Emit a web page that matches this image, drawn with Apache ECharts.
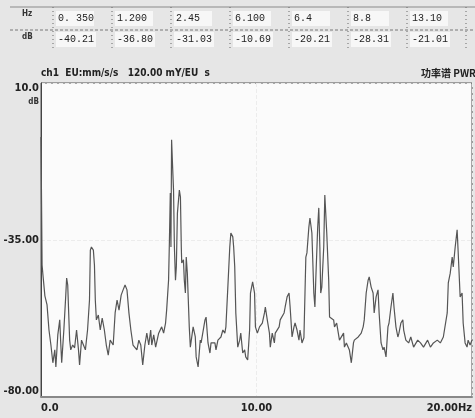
<!DOCTYPE html>
<html>
<head>
<meta charset="utf-8">
<script src="https://cdn.jsdelivr.net/npm/echarts@6/dist/echarts.min.js"></script>
<style>
	html, body { margin: 0; padding: 0; background: #e6e6e6; }
	#main { width: 475px; height: 418px; }
</style>
</head>
<body>
<div id="main"></div>
<script>
// 读数表
var tableHz = ['0. 350', '1.200', '2.45', '6.100', '6.4', '8.8', '13.10'];
var tableDb = ['-40.21', '-36.80', '-31.03', '-10.69', '-20.21', '-28.31', '-21.01'];

// 功率谱 (Hz, dB)
var freqHz = [0, 0.05, 0.09, 0.18, 0.28, 0.37, 0.46, 0.55, 0.64, 0.69, 0.78, 0.87, 0.92, 0.96, 1.06, 1.15, 1.19, 1.24, 1.28, 1.33,
	1.38, 1.47, 1.56, 1.65, 1.74, 1.79, 1.88, 1.97, 2.06, 2.16, 2.25, 2.29, 2.34, 2.43, 2.48, 2.52, 2.57, 2.66, 2.75, 2.84,
	2.94, 3.03, 3.12, 3.21, 3.35, 3.44, 3.53, 3.62, 3.72, 3.81, 3.90, 3.99, 4.08, 4.17, 4.27, 4.36, 4.45, 4.54, 4.63, 4.72,
	4.82, 4.91, 5.00, 5.09, 5.14, 5.23, 5.32, 5.46, 5.60, 5.69, 5.78, 5.83, 5.92, 5.96, 6.00, 6.03, 6.06, 6.10, 6.15, 6.19,
	6.24, 6.28, 6.33, 6.42, 6.47, 6.51, 6.53, 6.61, 6.65, 6.70, 6.74, 6.79, 6.83, 6.88, 6.93, 6.97, 7.06, 7.16, 7.20, 7.29,
	7.39, 7.43, 7.61, 7.66, 7.75, 7.84, 7.89, 8.07, 8.12, 8.21, 8.35, 8.44, 8.53, 8.58, 8.67, 8.76, 8.81, 8.90, 8.94, 8.99,
	9.04, 9.13, 9.22, 9.27, 9.36, 9.45, 9.50, 9.59, 9.68, 9.72, 9.82, 9.91, 9.95, 10.04, 10.14, 10.27, 10.37, 10.41, 10.50, 10.60,
	10.64, 10.73, 10.83, 10.87, 11.05, 11.10, 11.28, 11.33, 11.42, 11.51, 11.56, 11.65, 11.74, 11.79, 11.88, 11.97, 12.02, 12.11, 12.20, 12.25,
	12.29, 12.34, 12.43, 12.48, 12.57, 12.66, 12.71, 12.75, 12.84, 12.89, 12.94, 12.98, 13.03, 13.12, 13.17, 13.26, 13.35, 13.39, 13.58, 13.62,
	13.72, 13.85, 14.04, 14.08, 14.17, 14.31, 14.40, 14.50, 14.54, 14.72, 14.86, 14.95, 15.00, 15.09, 15.18, 15.23, 15.32, 15.41, 15.46, 15.55,
	15.64, 15.69, 15.78, 15.87, 15.92, 16.01, 16.10, 16.15, 16.24, 16.33, 16.38, 16.47, 16.56, 16.61, 16.70, 16.79, 16.83, 16.93, 17.06, 17.16,
	17.29, 17.48, 17.61, 17.75, 17.94, 18.07, 18.21, 18.39, 18.53, 18.67, 18.85, 18.90, 18.99, 19.08, 19.13, 19.22, 19.31, 19.36, 19.45, 19.54,
	19.59, 19.68, 19.77, 19.82, 19.91, 20.00];
var levelDb = [-5.5, -42.2, -45.0, -51.0, -53.6, -60.8, -65.1, -70.2, -66.5, -71.4, -62.2, -57.9, -65.1, -70.2, -60.8, -50.8, -45.9, -47.9, -55.1, -63.7,
	-66.5, -65.1, -65.9, -60.8, -66.5, -70.8, -63.7, -65.1, -66.5, -60.8, -52.2, -37.9, -37.0, -37.9, -42.2, -52.2, -57.9, -56.5, -60.8, -57.4,
	-60.8, -65.1, -68.0, -63.7, -65.1, -55.9, -52.2, -55.1, -50.8, -49.3, -47.9, -49.3, -55.9, -60.8, -65.1, -65.1, -66.5, -63.7, -65.1, -70.8,
	-65.1, -61.7, -65.1, -60.8, -65.1, -62.2, -65.7, -61.7, -59.9, -61.7, -58.8, -55.1, -46.5, -35.0, -21.5, -37.0, -6.3, -12.9, -20.7, -37.0,
	-46.5, -42.7, -27.3, -20.7, -22.7, -37.0, -41.6, -40.7, -46.5, -50.2, -39.9, -44.5, -51.3, -59.9, -65.7, -65.7, -59.9, -62.8, -68.5, -71.4,
	-63.7, -64.5, -57.9, -57.1, -64.5, -67.4, -64.5, -64.5, -66.5, -63.7, -62.8, -60.8, -61.7, -59.9, -48.5, -37.0, -33.0, -34.1, -37.0, -42.7,
	-55.9, -65.7, -63.7, -61.7, -67.4, -66.5, -68.5, -69.4, -60.8, -50.2, -47.0, -50.2, -59.9, -61.7, -59.9, -58.8, -55.9, -54.2, -57.9, -61.7,
	-65.7, -61.7, -64.5, -61.7, -59.9, -57.9, -55.9, -54.2, -51.3, -50.2, -54.2, -62.8, -59.9, -58.8, -60.8, -63.7, -60.8, -64.5, -63.0, -50.2,
	-39.9, -38.7, -31.3, -28.7, -33.0, -50.2, -54.2, -46.5, -31.3, -25.8, -37.0, -50.2, -48.5, -37.0, -22.1, -33.0, -46.5, -57.1, -57.9, -59.9,
	-58.8, -63.7, -61.7, -65.7, -64.5, -66.5, -70.2, -64.5, -63.7, -62.8, -61.7, -59.9, -57.9, -50.2, -46.5, -45.6, -48.5, -50.2, -55.9, -51.3,
	-49.3, -55.9, -64.5, -66.5, -65.7, -68.5, -59.9, -58.8, -54.2, -50.2, -54.2, -59.9, -62.8, -61.7, -58.8, -57.9, -60.8, -63.7, -64.5, -62.8,
	-65.7, -63.7, -64.5, -65.7, -63.7, -65.7, -64.5, -63.7, -64.5, -62.8, -55.9, -47.3, -44.5, -39.9, -42.7, -37.0, -32.1, -38.7, -51.3, -50.2,
	-58.8, -64.5, -65.7, -63.7, -65.1, -63.7];

var narrow = '"Liberation Sans Narrow", "DejaVu Sans Condensed", "Liberation Sans", sans-serif';

var chart = echarts.init(document.getElementById('main'));

// 表格
var graphics = [];
graphics.push({ type: 'line', shape: { x1: 10, y1: 7, x2: 475, y2: 7 }, style: { stroke: '#8a8a8a', lineWidth: 1 } });
graphics.push({ type: 'line', shape: { x1: 10, y1: 30, x2: 475, y2: 30 }, style: { stroke: '#777', lineWidth: 1, lineDash: [3, 2] } });
graphics.push({ type: 'text', x: 22, y: 10, style: { text: 'Hz', font: 'bold 8px ' + narrow, fill: '#333' } });
graphics.push({ type: 'text', x: 22, y: 33, style: { text: 'dB', font: 'bold 8px ' + narrow, fill: '#333' } });
for (var i = 0; i < tableHz.length; i++) {
	var cx = 53 + i * 59;
	graphics.push({ type: 'rect', shape: { x: cx + 3, y: 11, width: 38, height: 15 }, style: { fill: '#f7f7f7' } });
	graphics.push({ type: 'rect', shape: { x: cx + 3, y: 32, width: 40, height: 15 }, style: { fill: '#f7f7f7' } });
	graphics.push({ type: 'line', shape: { x1: cx, y1: 7, x2: cx, y2: 50 }, style: { stroke: '#666', lineWidth: 1, lineDash: [1, 3] } });
	graphics.push({ type: 'text', x: cx + 5, y: 18, style: { text: tableHz[i], font: '10px "Liberation Mono", monospace', fill: '#222', verticalAlign: 'middle' } });
	graphics.push({ type: 'text', x: cx + 5, y: 39, style: { text: tableDb[i], font: '10px "Liberation Mono", monospace', fill: '#222', verticalAlign: 'middle' } });
}
graphics.push({ type: 'line', shape: { x1: 466, y1: 7, x2: 466, y2: 50 }, style: { stroke: '#666', lineWidth: 1, lineDash: [1, 3] } });
// 标题
graphics.push({ type: 'text', x: 41, y: 73, style: { text: 'ch1  EU:mm/s/s   120.00 mY/EU  s', font: 'bold 10px ' + narrow, fill: '#222', verticalAlign: 'middle' } });
graphics.push({ type: 'text', x: 421, y: 73, style: { text: '功率谱 PWR', font: 'bold 10px "Noto Sans CJK SC", sans-serif', fill: '#222', verticalAlign: 'middle' } });
graphics.push({ type: 'text', x: 39, y: 102, style: { text: 'dB', font: 'bold 8px ' + narrow, fill: '#333', align: 'right', verticalAlign: 'middle' } });

var option = {
	backgroundColor: '#e6e6e6',
	animation: false,
	grid: {
		left: 41,
		top: 83,
		right: -2,
		bottom: 21,
		show: true,
		backgroundColor: '#fbfbfb',
		borderColor: '#555',
		borderWidth: 1
	},
	xAxis: {
		type: 'value',
		min: 0,
		max: 20,
		interval: 10,
		axisLine: { show: true, onZero: false, lineStyle: { color: '#888', width: 2 } },
		axisTick: { show: false },
		splitLine: { show: true, lineStyle: { color: '#ececec', type: 'dashed' } },
		axisLabel: {
			margin: 6,
			color: '#222',
			fontFamily: narrow,
			fontWeight: 'bold',
			fontSize: 11,
			alignMinLabel: 'left',
			alignMaxLabel: 'right',
			formatter: function(v) {
				if (v === 0) return '0.0';
				if (v === 20) return '20.00Hz';
				return v.toFixed(2);
			}
		}
	},
	yAxis: {
		type: 'value',
		min: -80,
		max: 10,
		interval: 45,
		axisLine: { show: true, onZero: false, lineStyle: { color: '#444', width: 1 } },
		axisTick: { show: false },
		splitLine: { show: true, lineStyle: { color: '#ececec', type: 'dashed' } },
		axisLabel: {
			margin: 2,
			color: '#222',
			fontFamily: narrow,
			fontWeight: 'bold',
			fontSize: 11,
			verticalAlignMinLabel: 'bottom',
			verticalAlignMaxLabel: 'top',
			formatter: function(v) {
				return v === 10 ? '10.0' : v.toFixed(2);
			}
		}
	},
	series: [{
		type: 'line',
		showSymbol: false,
		data: freqHz.map(function(f, k) { return [f, levelDb[k]]; }),
		lineStyle: { color: '#555', width: 1.2 }
	}],
	graphic: graphics
};
chart.setOption(option);
</script>
</body>
</html>
